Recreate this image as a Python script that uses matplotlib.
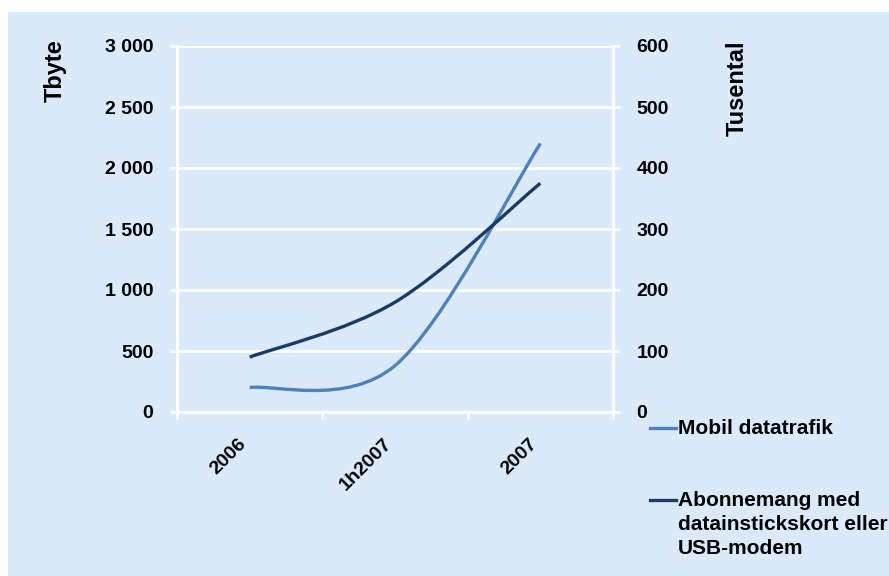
import matplotlib.pyplot as plt
from matplotlib.path import Path
from matplotlib.patches import PathPatch, Rectangle
from matplotlib.lines import Line2D
from matplotlib.ticker import FuncFormatter

plt.rcParams['font.family'] = ['Liberation Sans', 'DejaVu Sans']
plt.rcParams['font.weight'] = 'bold'

perioder = ['2006', '1h2007', '2007']
mobil_datatrafik = [200, 380, 2200]      # Tbyte
abonnemang = [90, 180, 375]              # tusental

bakgrund = '#dbeafb'
ljusbla = '#4f81bd'
morkbla = '#1b3a66'


def mjuk_kurva(xs, ys):
    # Bezier-kurva genom punkterna, utjämnad ungefär som i Excel
    pts = list(zip(xs, ys))
    n = len(pts)
    verts = [pts[0]]
    codes = [Path.MOVETO]
    for i in range(n - 1):
        p0 = pts[i - 1] if i > 0 else pts[i]
        p1 = pts[i]
        p2 = pts[i + 1]
        p3 = pts[i + 2] if i + 2 < n else pts[i + 1]
        c1 = (p1[0] + (p2[0] - p0[0]) / 6, p1[1] + (p2[1] - p0[1]) / 6)
        c2 = (p2[0] - (p3[0] - p1[0]) / 6, p2[1] - (p3[1] - p1[1]) / 6)
        verts += [c1, c2, p2]
        codes += [Path.CURVE4] * 3
    return Path(verts, codes)


def tusental(v, pos):
    return f'{int(v):,}'.replace(',', ' ')


fig = plt.figure(figsize=(8.89, 5.76), dpi=100, facecolor='white')
fig.add_artist(Rectangle((8 / 889, 0), 1, 1 - 12 / 576, transform=fig.transFigure,
                         facecolor=bakgrund, edgecolor='none', zorder=-10))

ax = fig.add_axes([177 / 889, 1 - 412 / 576, (613 - 177) / 889, (412 - 46) / 576])
ax.set_facecolor(bakgrund)
ax2 = ax.twinx()

x = list(range(len(perioder)))

ax.add_patch(PathPatch(mjuk_kurva(x, mobil_datatrafik), fill=False,
                       edgecolor=ljusbla, linewidth=2.4, capstyle='butt', zorder=3))
ax2.add_patch(PathPatch(mjuk_kurva(x, abonnemang), fill=False,
                        edgecolor=morkbla, linewidth=2.4, capstyle='butt', zorder=3))

ax.set_xlim(-0.5, 2.5)
ax.set_ylim(0, 3000)
ax2.set_ylim(0, 600)
ax.set_yticks(range(0, 3001, 500))
ax2.set_yticks(range(0, 601, 100))
ax.yaxis.set_major_formatter(FuncFormatter(tusental))

# kategorigränser som tickmarkeringar, etiketter i mitten
ax.set_xticks([-0.5, 0.5, 1.5, 2.5])
ax.set_xticklabels([])
ax.set_xticks(x, minor=True)
ax.set_xticklabels(perioder, minor=True, rotation=45, ha='right', va='top',
                   fontsize=14, fontweight='bold')
ax.tick_params(axis='x', which='minor', length=0, pad=17)
ax.tick_params(axis='x', which='major', length=5, width=2, color='white', direction='out')

ax.tick_params(axis='y', length=5, width=2, color='white', labelsize=14, pad=12)
ax2.tick_params(axis='y', length=5, width=2, color='white', labelsize=14, pad=12)

ax.grid(axis='y', color='white', linewidth=2)
ax.set_axisbelow(True)
for a in (ax, ax2):
    a.spines['top'].set_visible(False)
    for s in ('left', 'right', 'bottom'):
        a.spines[s].set_color('white')
        a.spines[s].set_linewidth(2)
ax2.patch.set_visible(False)

fig.text(55 / 889, 1 - 71 / 576, 'Tbyte', rotation=90, ha='center', va='center',
         fontsize=17, fontweight='bold')
fig.text(737 / 889, 1 - 88 / 576, 'Tusental', rotation=90, ha='center', va='center',
         fontsize=17, fontweight='bold')

# förklaring till höger om diagrammet
for y_px, farg, text in [(428, ljusbla, 'Mobil datatrafik'),
                         (500, morkbla, 'Abonnemang med\ndatainstickskort eller\nUSB-modem')]:
    yf = 1 - y_px / 576
    fig.add_artist(Line2D([650 / 889, 676 / 889], [yf, yf], transform=fig.transFigure,
                          color=farg, linewidth=2.4))
    fig.text(678 / 889, yf + 9 / 576, text, ha='left', va='top', fontsize=15,
             fontweight='bold', linespacing=1.35)

fig.savefig('out.png', dpi=100, facecolor=fig.get_facecolor())
